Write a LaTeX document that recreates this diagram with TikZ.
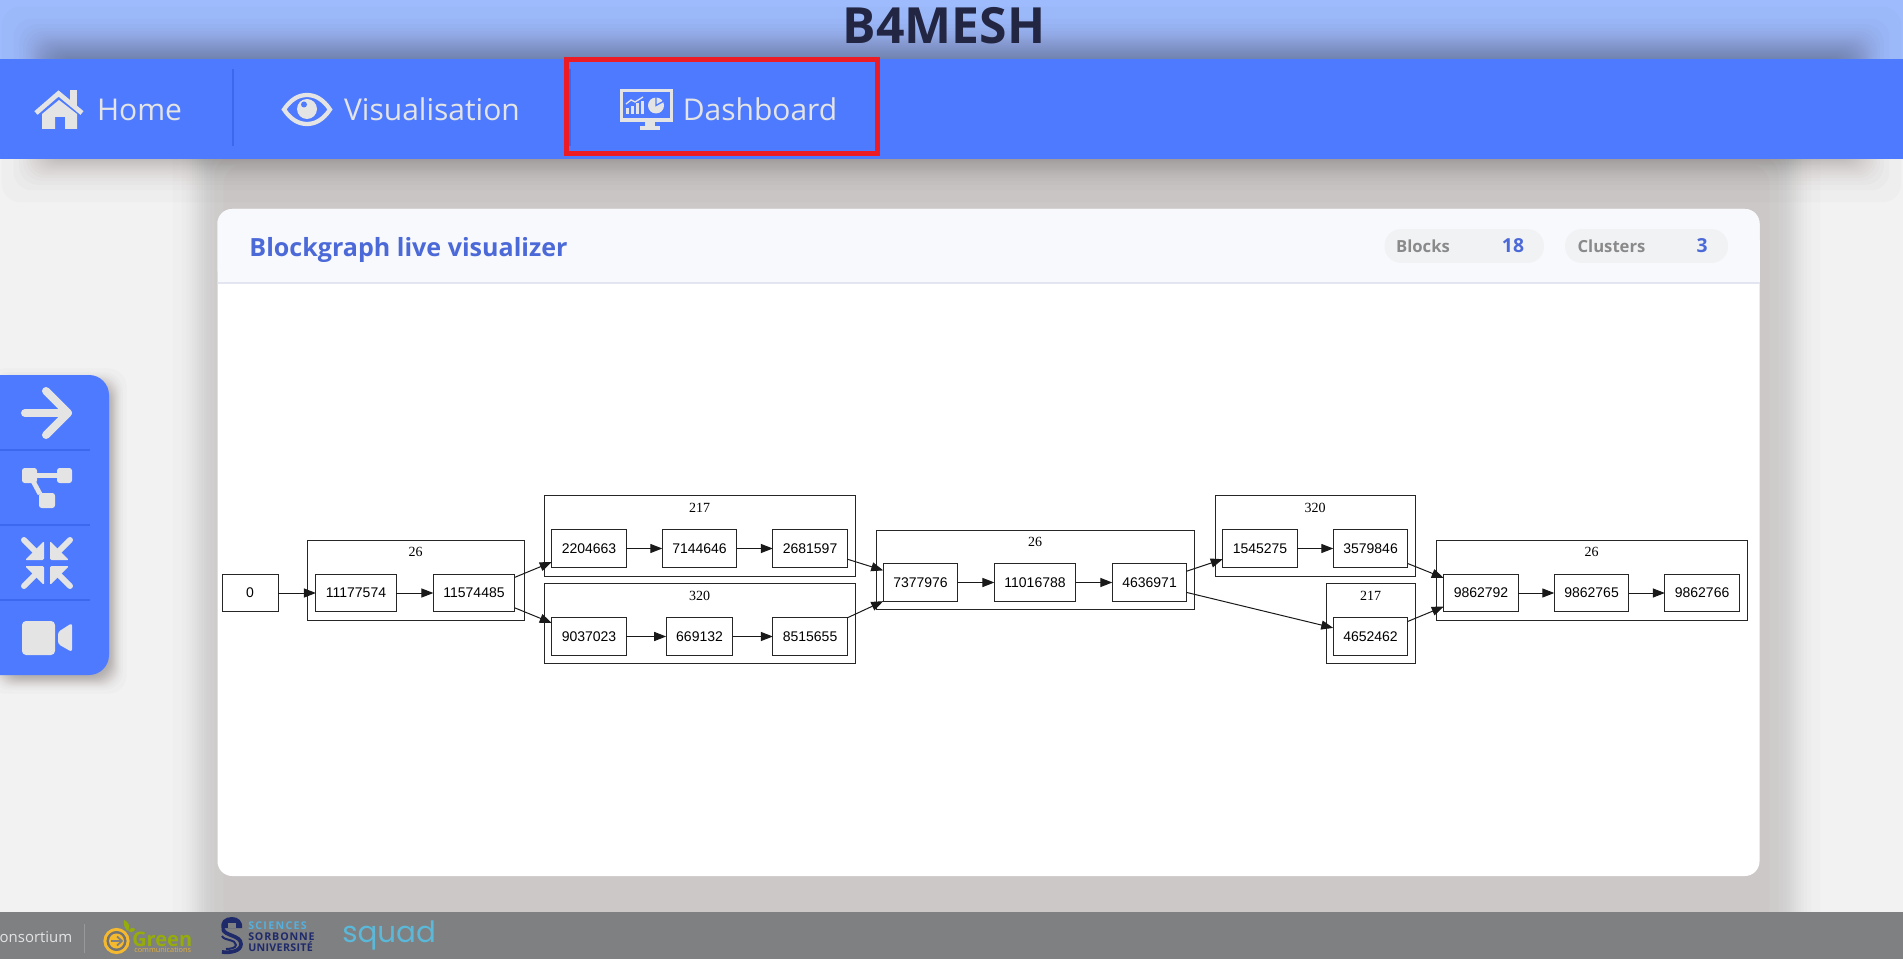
\documentclass[tikz,border=0pt]{standalone}
\usepackage{fontspec}
\setmainfont{Open Sans}
\newfontfamily\graphfont{Liberation Sans}
\newfontfamily\labelfont{Liberation Serif}
\newfontfamily\squadfont{Poppins}
\usetikzlibrary{positioning, arrows.meta}

\definecolor{pagebg}{HTML}{F2F2F2}
\definecolor{topbar}{HTML}{9DBBFD}
\definecolor{navbar}{HTML}{4D7AFF}
\definecolor{navline}{HTML}{3B68EE}
\definecolor{icongrey}{HTML}{E4E4E4}
\definecolor{titleink}{HTML}{232642}
\definecolor{cardhead}{HTML}{F8F9FD}
\definecolor{cardrule}{HTML}{E3E5F0}
\definecolor{cardblue}{HTML}{4C69D8}
\definecolor{pillgrey}{HTML}{F1F2F4}
\definecolor{pillink}{HTML}{8A8A8A}
\definecolor{footgrey}{HTML}{7F8082}
\definecolor{shadowink}{HTML}{2C1C18}
\definecolor{redbox}{HTML}{ED1C24}
\definecolor{leafgreen}{HTML}{95AC0A}
\definecolor{ringgold}{HTML}{F4B92F}
\definecolor{sbblue}{HTML}{55B0DE}
\definecolor{sbnavy}{HTML}{1F2A6B}
\definecolor{squadblue}{HTML}{5BB8D8}

\newcommand{\softshadow}[7]{%
  \foreach \i in {1,...,#6} {
    \pgfmathsetmacro\z{.55*ln((\i-.5)/(#6-\i+.5))}
    \fill[shadowink,opacity=#7,rounded corners=14pt] ({#1-\z*#5},{#2-\z*#5}) rectangle ({#3+\z*#5},{#4+\z*#5});
  }
}

\begin{document}
\begin{tikzpicture}[x=.75pt,y=-.75pt]
\tikzstyle{block}=[draw=black!85,line width=.75pt,fill=none,text=black,minimum height=28pt,inner xsep=7.5pt,inner ysep=0pt,outer sep=0pt,font=\graphfont\fontsize{10.5}{12}\selectfont]
\tikzstyle{cluster}=[draw=black!85,line width=.75pt,fill=none,inner sep=0pt,outer sep=0pt]
\tikzstyle{clusterlabel}=[inner sep=0pt,font=\labelfont\fontsize{10.5}{12}\selectfont]
\tikzstyle{link}=[->,>={Triangle[length=9pt,width=6.8pt]},line width=.75pt,black!90]
\tikzstyle{navtext}=[text=icongrey,inner sep=0pt,font=\fontsize{22.5}{26}\selectfont]
\tikzstyle{pilllabel}=[text=pillink,inner sep=0pt,font=\bfseries\fontsize{12.5}{15}\selectfont]
\tikzstyle{pillvalue}=[text=cardblue,inner sep=0pt,font=\bfseries\fontsize{14.5}{17}\selectfont]
\tikzstyle{sblabel}=[inner sep=0pt,anchor=west,font=\bfseries\fontsize{8}{10}\selectfont]
\useasboundingbox (0,0) rectangle (1903,959);

% page and shadows
\fill[pagebg] (0,0) rectangle (1903,959);
\fill[topbar] (0,0) rectangle (1903,60);
\softshadow{198}{140}{1795}{950}{14}{14}{.0125}
\softshadow{45}{50}{1858}{159}{19}{32}{.014}
\softshadow{0}{381}{114}{681}{6}{24}{.017}

% header
\fill[navbar] (0,59) rectangle (1903,159);
\node[inner sep=0pt,text=titleink,font=\bfseries\fontsize{37.4}{40}\selectfont] (title) at (944,26) {B4MESH};
\draw[navline,line width=.8pt] (233,69) -- (233,146);
\draw[navline,line width=.8pt] (570,69) -- (570,146);

% home icon
\draw[icongrey,line width=3.6pt,line join=miter] (36,113) -- (58.5,93.5) -- (82,113);
\fill[icongrey] (70,90) rectangle (77,106);
\fill[icongrey] (42,114) -- (59,100) -- (77,114) -- (77,129) -- (65,129) -- (65,117) -- (55,117) -- (55,129) -- (42,129) -- cycle;
\node[navtext] (home) at (139.5,109.5) {Home};

% eye icon
\draw[icongrey,line width=3.2pt] (284,109.5) .. controls (291,99) and (299,95) .. (307,95) .. controls (315,95) and (323,99) .. (330,109.5) .. controls (323,120) and (315,124) .. (307,124) .. controls (299,124) and (291,120) .. (284,109.5) -- cycle;
\fill[icongrey] (307,109) circle[radius=10];
\fill[navbar] (304,104.5) circle[radius=3];
\node[navtext] (visual) at (432,109.5) {Visualisation};

% dashboard icon
\draw[icongrey,line width=2.4pt] (621.5,90.5) rectangle (671.5,120);
\fill[icongrey] (645,120) rectangle (655,126);
\fill[icongrey] (640,126) -- (660,126) -- (660,130) -- (640,130) -- cycle;
\foreach \x/\t in {626/108,631/106,636/103,641/101}
  \fill[icongrey] (\x,\t) rectangle (\x+3.2,114);
\draw[icongrey,line width=1pt] (626,104) -- (631,100) -- (635,102) -- (643,97);
\fill[icongrey] (656,105.5) circle[radius=8];
\draw[navbar,line width=1pt] (656,97) -- (656,105.5) -- (664,101);
\node[navtext] (dash) at (760,109.5) {Dashboard};
\node[draw=redbox,line width=3.7pt,minimum width=233pt,minimum height=70.5pt,inner sep=0pt] (dashbox) at (722,106.5) {};

% side menu
\fill[navbar,rounded corners=15pt] (-40,375) rectangle (109,675);
\foreach \y in {450,525,600}
  \draw[navline,line width=.8pt] (0,\y) -- (90,\y);
\draw[icongrey,line width=6pt,line cap=round,line join=round] (25,413) -- (68,413);
\draw[icongrey,line width=6pt,line cap=round,line join=round] (46,391) -- (68,413) -- (46,435);
\fill[icongrey,rounded corners=2pt] (22,468) rectangle (37,483);
\fill[icongrey,rounded corners=2pt] (57,468) rectangle (72,483);
\fill[icongrey,rounded corners=2pt] (39,493) rectangle (55,508);
\draw[icongrey,line width=3.6pt] (37,475.5) -- (57,475.5);
\draw[icongrey,line width=3.6pt] (33,481) -- (40,494);
\foreach \sx/\sy in {-1/-1,1/-1,-1/1,1/1} {
  \fill[icongrey,rounded corners=1pt] ({47+3*\sx},{563+3*\sy}) -- ({47+3*\sx},{563+22*\sy}) -- ({47+22*\sx},{563+3*\sy}) -- cycle;
  \draw[icongrey,line width=4.5pt,line cap=round] ({47+10*\sx},{563+10*\sy}) -- ({47+23*\sx},{563+23*\sy});
}
\fill[icongrey,rounded corners=3pt] (22,621) rectangle (55,655);
\fill[icongrey,rounded corners=2pt] (58,632) -- (72,623) -- (72,652) -- (58,644) -- cycle;

% card
\fill[white,rounded corners=11pt] (217.5,209) rectangle (1759.5,876);
\fill[cardhead,rounded corners=11pt] (217.5,283) -- (217.5,209) -- (1759.5,209) -- (1759.5,283) -- cycle;
\fill[cardhead] (217.5,240) rectangle (1759.5,283);
\draw[cardrule,line width=1.4pt] (217.5,283) -- (1759.5,283);
\node[inner sep=0pt,text=cardblue,font=\bfseries\fontsize{18.8}{23}\selectfont] (cardtitle) at (408.5,249.5) {Blockgraph live visualizer};
\fill[pillgrey,rounded corners=12.5pt] (1384.5,229) rectangle (1544,263);
\fill[pillgrey,rounded corners=12.5pt] (1565,229) rectangle (1728,263);
\node[pilllabel] (blocks) at (1423,246) {Blocks};
\node[pillvalue] (nblocks) at (1513,246) {18};
\node[pilllabel] (clusters) at (1611.5,246) {Clusters};
\node[pillvalue] (nclusters) at (1702,246) {3};

% graph
\node[block,minimum width=42pt] (n0) at (250,593) {0};

\node[cluster,minimum width=162.75pt,minimum height=60pt] (c26a) at (415.5,580) {};
\node[clusterlabel] (l26a) at (415.5,552) {26};
\node[block] (n11177574) at (356,593) {11177574};
\node[block] (n11574485) [right of=n11177574,node distance=88.5pt] {11574485};

\node[cluster,minimum width=233.25pt,minimum height=60.75pt] (c217a) at (699.5,535.5) {};
\node[clusterlabel] (l217a) at (699.5,508) {217};
\node[block] (n2204663) at (589,548.5) {2204663};
\node[block] (n7144646) [right of=n2204663,node distance=82.9pt] {7144646};
\node[block] (n2681597) [right of=n7144646,node distance=82.9pt] {2681597};

\node[cluster,minimum width=233.25pt,minimum height=60pt] (c320a) at (699.5,623) {};
\node[clusterlabel] (l320a) at (699.5,596) {320};
\node[block] (n9037023) at (589,636.5) {9037023};
\node[block] (n669132) [right of=n9037023,node distance=82.9pt] {669132};
\node[block] (n8515655) [right of=n669132,node distance=82.9pt] {8515655};

\node[cluster,minimum width=238.5pt,minimum height=59.25pt] (c26b) at (1035,569.5) {};
\node[clusterlabel] (l26b) at (1035,542) {26};
\node[block] (n7377976) at (920.5,582.5) {7377976};
\node[block] (n11016788) [right of=n7377976,node distance=85.9pt] {11016788};
\node[block] (n4636971) [right of=n11016788,node distance=85.9pt] {4636971};

\node[cluster,minimum width=150pt,minimum height=60.75pt] (c320b) at (1315,535.5) {};
\node[clusterlabel] (l320b) at (1315,508) {320};
\node[block] (n1545275) at (1260,548.5) {1545275};
\node[block] (n3579846) [right of=n1545275,node distance=82.9pt] {3579846};

\node[cluster,minimum width=66.75pt,minimum height=60pt] (c217b) at (1370.5,623) {};
\node[clusterlabel] (l217b) at (1370.5,596) {217};
\node[block] (n4652462) at (1370.5,636.5) {4652462};

\node[cluster,minimum width=233.25pt,minimum height=60pt] (c26c) at (1591.5,580) {};
\node[clusterlabel] (l26c) at (1591.5,552) {26};
\node[block] (n9862792) at (1481,593) {9862792};
\node[block] (n9862765) [right of=n9862792,node distance=82.9pt] {9862765};
\node[block] (n9862766) [right of=n9862765,node distance=82.9pt] {9862766};

\path[link]
(n0.east) edge (n11177574.west)
(n11177574.east) edge (n11574485.west)
(n11574485.21) edge (n2204663.200)
(n11574485.-20) edge (n9037023.160)
(n2204663.east) edge (n7144646.west)
(n7144646.east) edge (n2681597.west)
(n9037023.east) edge (n669132.west)
(n669132.east) edge (n8515655.west)
(n2681597.-16) edge (n7377976.162)
(n8515655.north east) edge (n7377976.south west)
(n7377976.east) edge (n11016788.west)
(n11016788.east) edge (n4636971.west)
(n4636971.17) edge (n1545275.196)
(n4636971.-15) edge (n4652462.167)
(n1545275.east) edge (n3579846.west)
(n3579846.-22) edge (n9862792.158)
(n4652462.22) edge (n9862792.200)
(n9862792.east) edge (n9862765.west)
(n9862765.east) edge (n9862766.west);

% footer
\fill[footgrey] (0,912) rectangle (1903,959);
\node[inner sep=0pt,anchor=east,text=icongrey,font=\fontsize{11.2}{14}\selectfont] (consortium) at (72.5,937) {onsortium};
\draw[black!30,line width=.6pt,opacity=.5] (84,924) -- (84,953);

% green logo
\draw[ringgold,line width=2.4pt] (116.5,941) circle[radius=11.5];
\fill[black!55] (116.5,941) circle[radius=10];
\fill[ringgold] (116.5,941) circle[radius=7.5];
\draw[footgrey,line width=1.3pt] (110.5,941) -- (121,941);
\draw[footgrey,line width=1.3pt] (117,936.5) -- (122,941) -- (117,945.5);
\fill[leafgreen] (124,920) .. controls (123,925) and (125,929) .. (128,931) .. controls (131,927) and (129,922) .. (124,920) -- cycle;
\fill[leafgreen] (128,931) .. controls (131,927) and (135,927) .. (135,930) .. controls (132,933) and (130,932) .. (128,931) -- cycle;
\node[inner sep=0pt,anchor=west,text=leafgreen,font=\bfseries\fontsize{15}{18}\selectfont] (green) at (132,939) {Green};
\node[inner sep=0pt,anchor=west,text=ringgold!85!footgrey,font=\fontsize{5.5}{6}\selectfont] (greencomm) at (134,950) {communications};

% sorbonne logo
\fill[sbnavy] (222,930) .. controls (219,921) and (225,917) .. (232,917) .. controls (238,917) and (243,921) .. (242,928) -- (225,928) -- cycle;
\fill[footgrey] (228,923) rectangle (236,928);
\draw[sbnavy,line width=2.8pt] (223,929) .. controls (224,936) and (241,935) .. (241,944) .. controls (241,951) and (231,953) .. (222,952);
\draw[sbnavy,line width=1.5pt] (222,936) .. controls (224,941) and (236,939) .. (236,945) .. controls (236,948) and (230,949) .. (226,949);
\node[sblabel,text=sbblue] (sciences) at (248,926) {\addfontfeature{LetterSpace=12}SCIENCES};
\node[sblabel,text=sbnavy] (sorbonne) at (248,937) {\addfontfeature{LetterSpace=8}SORBONNE};
\node[sblabel,text=sbnavy] (universite) at (248,947) {\addfontfeature{LetterSpace=3}UNIVERSITÉ};

\node[inner sep=0pt,anchor=west,text=squadblue,font=\squadfont\fontsize{22}{30}\selectfont] (squad) at (342,935) {squad};
\end{tikzpicture}
\end{document}
